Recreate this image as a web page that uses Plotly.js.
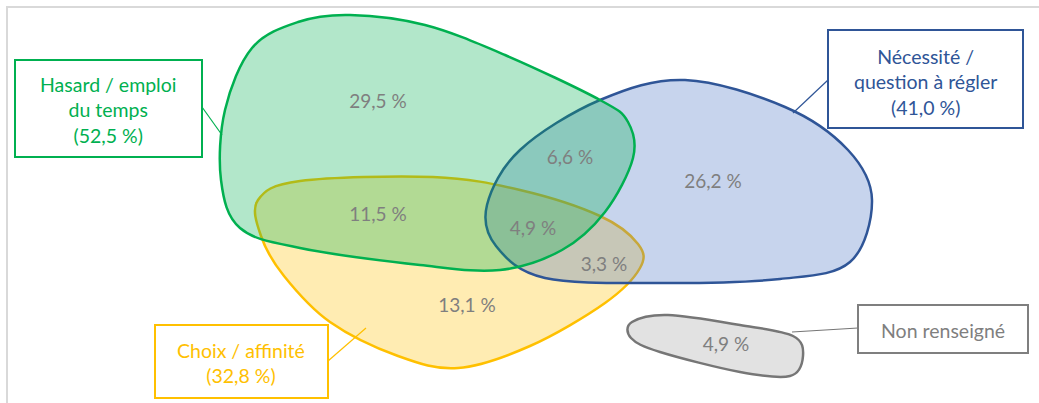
<!DOCTYPE html>
<html>
<head>
<meta charset="utf-8">
<script src="https://cdn.plot.ly/plotly-3.0.1.min.js"></script>
<style>html,body{margin:0;padding:0;background:#fff;}#chart{width:1039px;height:403px;}</style>
</head>
<body>
<div id="chart"></div>
<script>
// ---- data ----
const regionNames = ['Hasard seul', 'Hasard + Nécessité', 'Nécessité seule', 'Hasard + Choix', 'Hasard + Nécessité + Choix', 'Nécessité + Choix', 'Choix seul', 'Non renseigné'];
const regionValues = [29.5, 6.6, 26.2, 11.5, 4.9, 3.3, 13.1, 4.9];
const setNames = ['Hasard / emploi<br>du temps', 'Nécessité /<br>question à régler', 'Choix / affinité', 'Non renseigné'];
const setTotals = [52.5, 41.0, 32.8, null];

// ---- geometry (pixel-like data coordinates) ----
const regionX = [378, 570, 713, 378, 533, 604, 467, 726];
const regionY = [103, 159, 183, 216, 230, 266, 307, 346];

const blobYellow = [[300,181],[433,177],[520,190],[600,216],[638,244],[640,268],[605,303],[530,346],[458,368],[398,356],[330,322],[284,276],[261,236],[258,200]];
const blobBlue = [[487,205],[520,150],[600,100],[685,80],[785,107],[848,150],[872,200],[850,262],[780,279],[660,283],[545,278],[496,246]];
const blobGreen = [[350,15],[425,25],[505,55],[600,100],[628,122],[633,158],[605,212],[562,250],[500,270],[420,265],[300,248],[240,228],[221,180],[225,110],[252,48],[298,22]];
const blobGray = [[632,322],[668,315],[740,325],[793,336],[803,356],[790,376],[740,372],[660,352],[631,338]];

function fmt(v){ return v.toFixed(1).replace('.', ',') + ' %'; }

function closedPath(pts){
  const n = pts.length;
  let d = 'M ' + pts[0][0] + ',' + pts[0][1];
  for (let i = 0; i < n; i++){
    const p0 = pts[(i - 1 + n) % n], p1 = pts[i], p2 = pts[(i + 1) % n], p3 = pts[(i + 2) % n];
    const c1x = p1[0] + (p2[0] - p0[0]) / 6, c1y = p1[1] + (p2[1] - p0[1]) / 6;
    const c2x = p2[0] - (p3[0] - p1[0]) / 6, c2y = p2[1] - (p3[1] - p1[1]) / 6;
    d += ' C ' + c1x.toFixed(2) + ',' + c1y.toFixed(2) + ' ' + c2x.toFixed(2) + ',' + c2y.toFixed(2) + ' ' + p2[0] + ',' + p2[1];
  }
  return d + ' Z';
}

const GREEN = '#00b050', BLUE = '#2f5597', YELLOW = '#ffc000', GRAY = '#767676';
const FONT = 'Lato, "Open Sans", sans-serif';

function blob(pts, fill, line){
  return {type:'path', xref:'x', yref:'y', path: closedPath(pts), fillcolor: fill, line:{color: line, width: 2.5}, layer:'below'};
}
function box(x0,y0,x1,y1,color){
  return {type:'rect', xref:'x', yref:'y', x0:x0, y0:y0, x1:x1, y1:y1, fillcolor:'#ffffff', line:{color: color, width: 2}, layer:'below'};
}
function conn(x0,y0,x1,y1,color){
  return {type:'line', xref:'x', yref:'y', x0:x0, y0:y0, x1:x1, y1:y1, line:{color: color, width: 1.2}, layer:'below'};
}

const shapes = [
  // frame
  {type:'rect', xref:'x', yref:'y', x0:7, y0:7, x1:1060, y1:420, line:{color:'#d9d9d9', width:2}, fillcolor:'rgba(0,0,0,0)', layer:'below'},
  blob(blobYellow, 'rgba(255,192,0,0.3)', YELLOW),
  blob(blobBlue, 'rgba(68,114,196,0.3)', BLUE),
  blob(blobGreen, 'rgba(0,176,80,0.3)', GREEN),
  blob(blobGray, 'rgba(165,165,165,0.32)', GRAY),
  conn(202,107,222,135,GREEN),
  conn(828,80,793,113,BLUE),
  conn(328,361,366,328,YELLOW),
  conn(858,328,792,332,GRAY),
  box(15,60,202,157,GREEN),
  box(828,30,1023,128,BLUE),
  box(155,325,328,398,YELLOW),
  box(858,305,1028,353,'#7f7f7f')
];

function setLabel(i){ return setTotals[i] === null ? setNames[i] : setNames[i] + '<br>(' + fmt(setTotals[i]) + ')'; }

const annotations = [
  {x:108, y:110, text:setLabel(0), color:GREEN},
  {x:925, y:82, text:setLabel(1), color:BLUE},
  {x:241, y:363, text:setLabel(2), color:YELLOW},
  {x:943, y:330, text:setLabel(3), color:'#7f7f7f'}
].map(a => ({x:a.x, y:a.y, xref:'x', yref:'y', text:a.text, showarrow:false, xanchor:'center', yanchor:'middle', align:'center',
  font:{family:FONT, size:19.5, color:a.color}}));

const trace = {
  type:'scatter', mode:'text', x: regionX, y: regionY,
  text: regionValues.map(fmt), hovertext: regionNames,
  textposition:'middle center', textfont:{family:FONT, size:19, color:'#7f7f7f'},
  showlegend:false, cliponaxis:false
};

const layout = {
  width:1039, height:403, margin:{l:0,r:0,t:0,b:0},
  paper_bgcolor:'#ffffff', plot_bgcolor:'rgba(0,0,0,0)',
  xaxis:{range:[0,1039], visible:false, fixedrange:true},
  yaxis:{range:[403,0], visible:false, fixedrange:true},
  shapes: shapes, annotations: annotations, showlegend:false
};

Plotly.newPlot('chart', [trace], layout, {staticPlot:true, displayModeBar:false});
</script>
</body>
</html>
